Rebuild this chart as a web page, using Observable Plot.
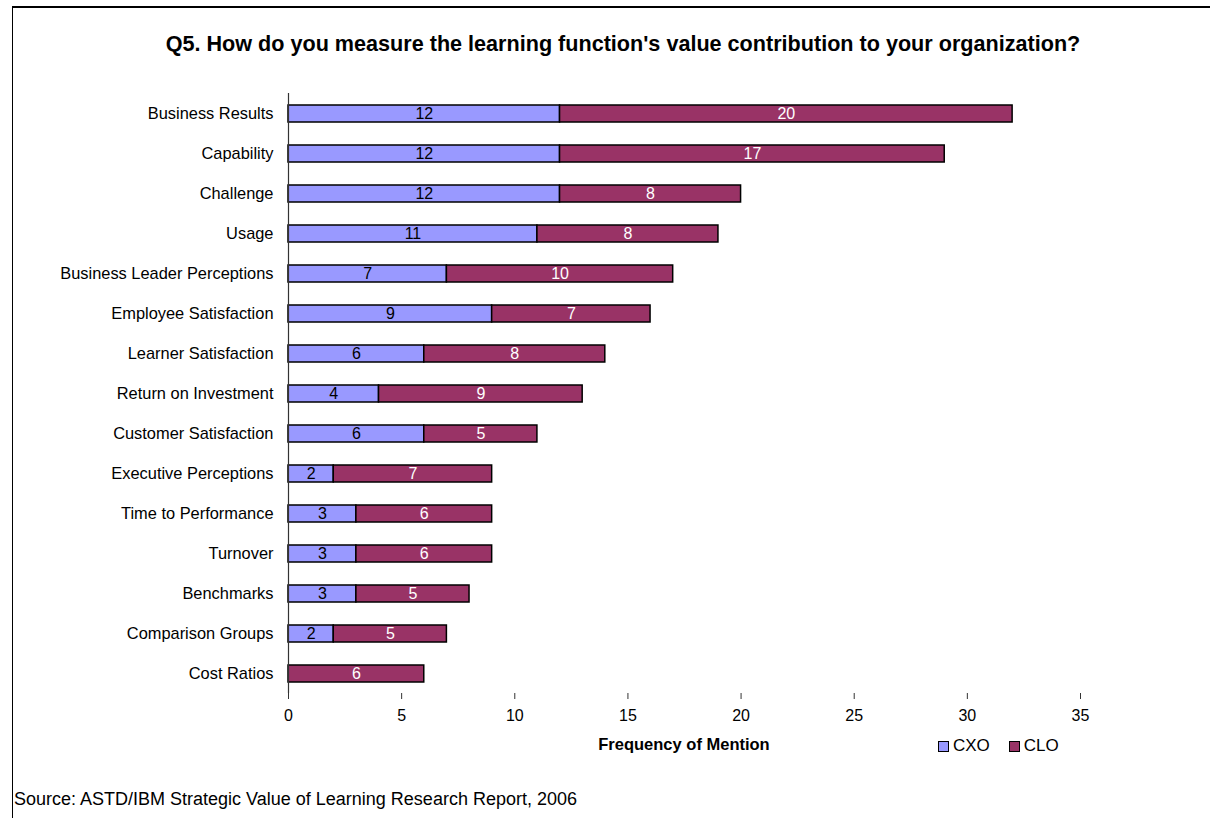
<!DOCTYPE html>
<html>
<head>
<meta charset="utf-8">
<script src="https://cdn.jsdelivr.net/npm/d3@7"></script>
<script src="https://cdn.jsdelivr.net/npm/@observablehq/plot@0.6"></script>
<style>
  html, body { margin: 0; padding: 0; background: #fff; }
  body { font-family: "Liberation Sans", Arial, sans-serif; }
  #wrap { position: relative; width: 1210px; height: 818px; overflow: hidden; }
  #frame { position: absolute; left: 12px; top: 6px; width: 1400px; height: 1000px; border-left: 1px solid #000; border-top: 2px solid #000; }
  #title { position: absolute; left: 12px; width: 1222px; top: 31px; text-align: center; font-weight: bold; font-size: 21.6px; color: #000; white-space: nowrap; }
  #chart { position: absolute; left: 0; top: 60px; }
  #xlabel { position: absolute; left: 534px; width: 300px; top: 735px; text-align: center; font-weight: bold; font-size: 16.5px; color: #000; }
  #legend { position: absolute; left: 938px; top: 736px; font-size: 17px; color: #000; display: flex; align-items: center; }
  .sw { display: inline-block; width: 9px; height: 9px; border: 1px solid #000; margin-right: 4px; }
  .item { display: flex; align-items: center; margin-right: 19px; }
  #source { position: absolute; left: 14px; top: 789px; font-size: 18px; color: #000; white-space: nowrap; }
</style>
</head>
<body>
<div id="wrap">
  <div id="frame"></div>
  <div id="title"></div>
  <div id="chart"></div>
  <div id="xlabel"></div>
  <div id="legend"></div>
  <div id="source"></div>
</div>
<script>
const titleText = "Q5. How do you measure the learning function's value contribution to your organization?";
const xLabelText = "Frequency of Mention";
const sourceText = "Source: ASTD/IBM Strategic Value of Learning Research Report, 2006";

const categories = [
  "Business Results", "Capability", "Challenge", "Usage", "Business Leader Perceptions",
  "Employee Satisfaction", "Learner Satisfaction", "Return on Investment", "Customer Satisfaction",
  "Executive Perceptions", "Time to Performance", "Turnover", "Benchmarks", "Comparison Groups", "Cost Ratios"
];
const seriesNames = ["CXO", "CLO"];
const cxoValues = [12, 12, 12, 11, 7, 9, 6, 4, 6, 2, 3, 3, 3, 2, 0];
const cloValues = [20, 17, 8, 8, 10, 7, 8, 9, 5, 7, 6, 6, 5, 5, 6];
const seriesColors = ["#9999FF", "#993366"];
const labelColors = ["#000000", "#FFFFFF"];
const xTicks = [0, 5, 10, 15, 20, 25, 30, 35];

const data = [];
categories.forEach((c, i) => {
  data.push({category: c, series: seriesNames[0], value: cxoValues[i]});
  data.push({category: c, series: seriesNames[1], value: cloValues[i]});
});
const labelled = data.filter(d => d.value > 0);

document.getElementById("title").textContent = titleText;
document.getElementById("xlabel").textContent = xLabelText;
document.getElementById("source").textContent = sourceText;

const font = "\"Liberation Sans\", Arial, sans-serif";
const chart = Plot.plot({
  width: 1210,
  height: 700,
  marginLeft: 288,
  marginRight: 130,
  marginTop: 33,
  marginBottom: 67,
  style: {fontFamily: font, fontSize: "16px", color: "#000", background: "transparent", overflow: "visible"},
  x: {domain: [0, 35], ticks: xTicks},
  y: {domain: categories, paddingInner: 0.575, paddingOuter: 0.2875},
  color: {domain: seriesNames, range: seriesColors},
  marks: [
    Plot.barX(data, Plot.stackX({
      x: "value", y: "category", fill: "series", order: seriesNames,
      stroke: "#000", strokeWidth: 1.5, inset: 0
    })),
    Plot.text(labelled, Plot.stackX({
      x: "value", y: "category", z: "series", order: seriesNames,
      text: d => String(d.value),
      fill: d => labelColors[seriesNames.indexOf(d.series)],
      fontSize: 16
    })),
    Plot.ruleX([0], {stroke: "#333", strokeWidth: 1.2}),
    Plot.ruleY([0], {frameAnchor: "bottom", stroke: "#808080", strokeWidth: 2}),
    Plot.axisX({ticks: xTicks, tickSize: 6, tickPadding: 10, stroke: "#333", label: null, fill: "#000", fontSize: 16}),
    Plot.axisY({tickSize: 0, tickPadding: 15, label: null, fill: "#000", fontSize: 16.4})
  ]
});
document.getElementById("chart").appendChild(chart);

const legend = document.getElementById("legend");
seriesNames.forEach((s, i) => {
  const item = document.createElement("span");
  item.className = "item";
  const sw = document.createElement("span");
  sw.className = "sw";
  sw.style.background = seriesColors[i];
  const t = document.createElement("span");
  t.textContent = s;
  item.appendChild(sw);
  item.appendChild(t);
  legend.appendChild(item);
});
</script>
</body>
</html>
